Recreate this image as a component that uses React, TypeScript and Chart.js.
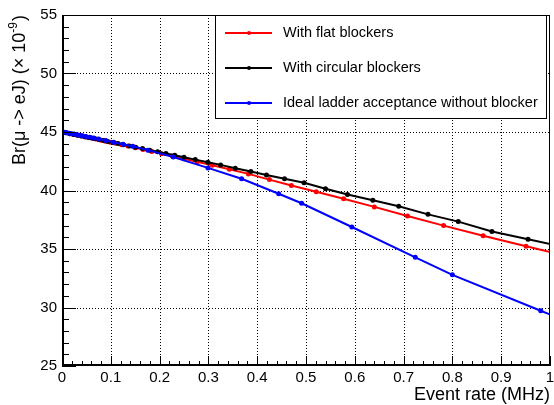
import React, { useEffect, useRef } from 'react';
import { Chart, registerables } from 'chart.js';

Chart.register(...registerables);

// ---- data ----
const flatX = [0, 0.008, 0.016, 0.024, 0.032, 0.040, 0.048, 0.056, 0.064, 0.072, 0.080, 0.089, 0.099, 0.110, 0.122, 0.135, 0.150, 0.166, 0.184, 0.204, 0.226, 0.250, 0.277, 0.308, 0.343, 0.382, 0.425, 0.470, 0.521, 0.577, 0.640, 0.708, 0.782, 0.863, 0.951, 1.045];
const flatY = [45.00, 44.93, 44.86, 44.79, 44.72, 44.65, 44.58, 44.51, 44.44, 44.37, 44.30, 44.22, 44.13, 44.03, 43.92, 43.80, 43.66, 43.51, 43.34, 43.15, 42.94, 42.71, 42.45, 42.15, 41.82, 41.42, 40.93, 40.42, 39.90, 39.29, 38.60, 37.82, 37.00, 36.14, 35.23, 34.30];

const circX = [0, 0.008, 0.016, 0.024, 0.032, 0.040, 0.047, 0.054, 0.061, 0.068, 0.076, 0.085, 0.094, 0.104, 0.115, 0.126, 0.138, 0.151, 0.165, 0.180, 0.196, 0.213, 0.231, 0.250, 0.273, 0.299, 0.325, 0.355, 0.387, 0.419, 0.456, 0.496, 0.540, 0.585, 0.637, 0.690, 0.750, 0.812, 0.881, 0.955, 1.030];
const circY = [45.00, 44.93, 44.86, 44.79, 44.72, 44.66, 44.60, 44.54, 44.48, 44.42, 44.35, 44.27, 44.19, 44.11, 44.01, 43.92, 43.81, 43.70, 43.58, 43.45, 43.31, 43.16, 43.01, 42.84, 42.64, 42.42, 42.19, 41.91, 41.62, 41.33, 41.01, 40.66, 40.15, 39.66, 39.16, 38.66, 37.96, 37.34, 36.50, 35.84, 35.15];

const idealX = [0, 0.005, 0.010, 0.015, 0.020, 0.025, 0.030, 0.036, 0.042, 0.049, 0.057, 0.065, 0.075, 0.090, 0.106, 0.125, 0.145, 0.176, 0.228, 0.299, 0.368, 0.444, 0.491, 0.594, 0.724, 0.800, 0.981, 1.060];
const idealY = [45.02, 44.98, 44.94, 44.90, 44.86, 44.82, 44.78, 44.73, 44.68, 44.62, 44.55, 44.48, 44.40, 44.27, 44.13, 43.96, 43.78, 43.45, 42.86, 41.93, 41.00, 39.72, 38.91, 36.88, 34.29, 32.79, 29.72, 28.40];

const seriesLabels = ['With flat blockers', 'With circular blockers', 'Ideal ladder acceptance without blocker'];
const seriesColors = ['#ff0000', '#000000', '#0000ff'];

const xTickLabels = ['0', '0.1', '0.2', '0.3', '0.4', '0.5', '0.6', '0.7', '0.8', '0.9', '1'];
const xTickValues = [0, 0.1, 0.2, 0.3, 0.4, 0.5, 0.6, 0.7, 0.8, 0.9, 1];
const yTickValues = [25, 30, 35, 40, 45, 50, 55];

const xTitle = 'Event rate (MHz)';
const yTitleMain = 'Br(\u03bc -> eJ) (\u00d7 10';
const yTitleSup = '-9';
const yTitleEnd = ')';

const FONT = '"Liberation Sans", Arial, Helvetica, sans-serif';

const toPoints = (xs: number[], ys: number[]) => xs.map((x, i) => ({ x, y: ys[i] }));

const rootStyle = {
  id: 'rootStyle',
  beforeDatasetsDraw(chart: any) {
    const { ctx, chartArea: a, scales } = chart;
    const xs = scales.x, ys = scales.y;
    ctx.save();
    ctx.strokeStyle = '#000';
    ctx.lineWidth = 1;
    ctx.setLineDash([1, 2]);
    xTickValues.forEach((v) => {
      if (v <= 0 || v >= 1) return;
      const px = Math.round(xs.getPixelForValue(v)) + 0.5;
      ctx.beginPath();
      ctx.moveTo(px, a.top);
      ctx.lineTo(px, a.bottom);
      ctx.stroke();
    });
    yTickValues.forEach((v) => {
      if (v <= 25 || v >= 55) return;
      const py = Math.round(ys.getPixelForValue(v)) + 0.5;
      ctx.beginPath();
      ctx.moveTo(a.left, py);
      ctx.lineTo(a.right, py);
      ctx.stroke();
    });
    ctx.restore();
  },
  afterDatasetsDraw(chart: any) {
    const { ctx, chartArea: a, scales } = chart;
    const xs = scales.x, ys = scales.y;
    ctx.save();
    ctx.setLineDash([]);
    ctx.strokeStyle = '#000';
    // frame
    ctx.lineWidth = 1;
    ctx.strokeRect(a.left + 0.5, a.top + 0.5, a.right - a.left - 1, a.bottom - a.top - 1);
    ctx.lineWidth = 2;
    ctx.beginPath();
    ctx.moveTo(a.left + 1, a.top);
    ctx.lineTo(a.left + 1, a.bottom - 1);
    ctx.lineTo(a.right, a.bottom - 1);
    ctx.stroke();
    // ticks
    ctx.lineWidth = 1;
    for (let i = 0; i <= 30; i++) {
      const v = 25 + i;
      const py = Math.round(ys.getPixelForValue(v)) + 0.5;
      const len = i % 5 === 0 ? 14 : 7;
      ctx.beginPath();
      ctx.moveTo(a.left, py);
      ctx.lineTo(a.left + len, py);
      ctx.stroke();
    }
    for (let i = 0; i <= 50; i++) {
      const v = i / 50;
      const px = Math.round(xs.getPixelForValue(v)) + 0.5;
      const len = i % 5 === 0 ? 10 : 5;
      ctx.beginPath();
      ctx.moveTo(px, a.bottom);
      ctx.lineTo(px, a.bottom - len);
      ctx.stroke();
    }
    // tick labels
    ctx.fillStyle = '#000';
    ctx.font = `15px ${FONT}`;
    ctx.textAlign = 'right';
    ctx.textBaseline = 'middle';
    yTickValues.forEach((v) => {
      ctx.fillText(String(v), a.left - 5, ys.getPixelForValue(v));
    });
    ctx.textAlign = 'center';
    ctx.textBaseline = 'middle';
    xTickValues.forEach((v, i) => {
      ctx.fillText(xTickLabels[i], xs.getPixelForValue(v), a.bottom + 12);
    });
    // x title
    ctx.font = `18px ${FONT}`;
    ctx.textAlign = 'right';
    ctx.fillText(xTitle, a.right, a.bottom + 29);
    // y title
    ctx.save();
    ctx.translate(20, a.top);
    ctx.rotate(-Math.PI / 2);
    ctx.textBaseline = 'middle';
    ctx.textAlign = 'left';
    ctx.font = `18px ${FONT}`;
    const w1 = ctx.measureText(yTitleMain).width;
    const w3 = ctx.measureText(yTitleEnd).width;
    ctx.font = `12px ${FONT}`;
    const w2 = ctx.measureText(yTitleSup).width;
    const total = w1 + w2 + w3 + 1;
    let x0 = -total;
    ctx.font = `18px ${FONT}`;
    ctx.fillText(yTitleMain, x0, 0);
    x0 += w1;
    ctx.font = `12px ${FONT}`;
    ctx.fillText(yTitleSup, x0, -6);
    x0 += w2 + 1;
    ctx.font = `18px ${FONT}`;
    ctx.fillText(yTitleEnd, x0, 0);
    ctx.restore();
    // legend
    const lx = 215, ly = a.top, lw = 331, lh = 103;
    ctx.fillStyle = '#fff';
    ctx.fillRect(lx, ly, lw, lh);
    ctx.strokeStyle = '#000';
    ctx.lineWidth = 1;
    ctx.strokeRect(lx + 0.5, ly + 0.5, lw, lh);
    const rows = [33, 68, 103];
    ctx.font = `14.5px ${FONT}`;
    ctx.textAlign = 'left';
    ctx.textBaseline = 'middle';
    seriesLabels.forEach((lab, i) => {
      const y = rows[i];
      ctx.strokeStyle = seriesColors[i];
      ctx.lineWidth = 2;
      ctx.beginPath();
      ctx.moveTo(225, y);
      ctx.lineTo(272, y);
      ctx.stroke();
      ctx.fillStyle = seriesColors[i];
      ctx.beginPath();
      ctx.arc(249, y, 2, 0, Math.PI * 2);
      ctx.fill();
      ctx.fillStyle = '#000';
      ctx.fillText(lab, 283, y);
    });
    ctx.restore();
  },
};

export default function App() {
  const ref = useRef<HTMLCanvasElement | null>(null);
  useEffect(() => {
    document.body.style.margin = '0';
    document.body.style.background = '#fff';
    const canvas = ref.current;
    if (!canvas) return;
    const mk = (label: string, color: string, xs: number[], ys: number[]) => ({
      label,
      data: toPoints(xs, ys),
      borderColor: color,
      backgroundColor: color,
      borderWidth: 2,
      pointRadius: 2.5,
      pointBorderWidth: 0,
      pointBackgroundColor: color,
      tension: 0,
      fill: false,
    });
    const chart = new Chart(canvas, {
      type: 'line',
      data: {
        datasets: [
          mk(seriesLabels[2], seriesColors[2], idealX, idealY),
          mk(seriesLabels[1], seriesColors[1], circX, circY),
          mk(seriesLabels[0], seriesColors[0], flatX, flatY),
        ],
      },
      options: {
        animation: false,
        responsive: false,
        maintainAspectRatio: false,
        devicePixelRatio: 1,
        layout: { padding: { left: 62, right: 3, top: 15, bottom: 39 } },
        plugins: { legend: { display: false }, tooltip: { enabled: false } },
        scales: {
          x: { type: 'linear', min: 0, max: 1, display: false },
          y: { type: 'linear', min: 25, max: 55, display: false },
        },
      },
      plugins: [rootStyle],
    });
    return () => chart.destroy();
  }, []);
  return <canvas ref={ref} width={554} height={405} style={{ display: 'block' }} />;
}
